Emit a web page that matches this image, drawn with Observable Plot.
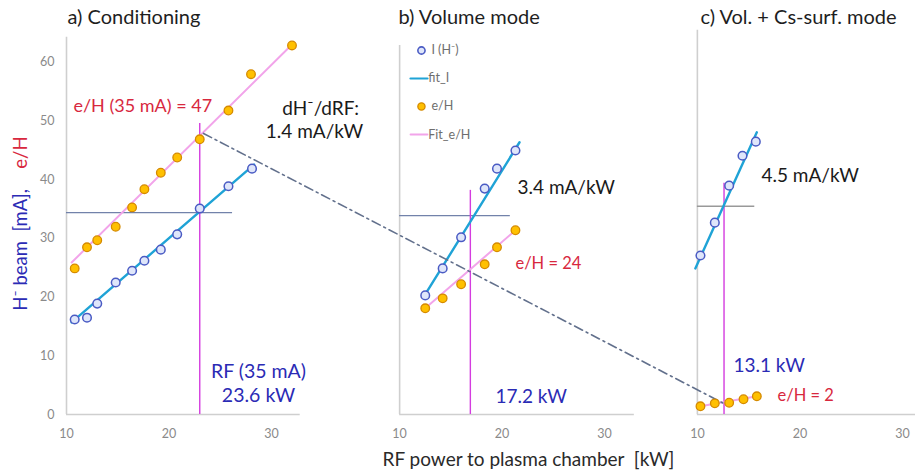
<!DOCTYPE html>
<html>
<head>
<meta charset="utf-8">
<script src="https://cdn.jsdelivr.net/npm/d3@7"></script>
<script src="https://cdn.jsdelivr.net/npm/@observablehq/plot@0.6"></script>
<style>
  html, body { margin: 0; padding: 0; background: #fff; }
  #chart svg { display: block; }
</style>
</head>
<body>
<div id="chart"></div>
<script>
// ---------- data ----------
// Panel a) Conditioning
const rfA_I = [10.8, 12.0, 13.0, 14.8, 16.4, 17.6, 19.2, 20.8, 23.0, 25.8, 28.1];
const iA    = [16.2, 16.5, 18.9, 22.5, 24.5, 26.2, 28.1, 30.7, 35.1, 38.9, 41.9];
const rfA_E = [10.8, 12.0, 13.0, 14.8, 16.4, 17.6, 19.2, 20.8, 23.0, 25.8, 28.0, 32.0];
const eA    = [24.9, 28.5, 29.7, 32.0, 35.3, 38.4, 41.2, 43.8, 46.9, 51.8, 58.0, 62.9];
// Panel b) Volume mode
const rfB   = [12.5, 14.2, 16.0, 18.3, 19.5, 21.3];
const iB    = [20.3, 24.9, 30.2, 38.5, 41.9, 45.0];
const eB    = [18.1, 19.8, 22.2, 25.6, 28.5, 31.4];
// Panel c) Vol. + Cs-surf. mode
const rfC_I = [10.3, 11.7, 13.1, 14.4, 15.7];
const iC    = [27.1, 32.7, 39.0, 44.1, 46.5];
const rfC_E = [10.3, 11.7, 13.1, 14.5, 15.8];
const eC    = [1.4, 1.9, 2.0, 2.6, 3.1];
// Fit line end points (RF kW, value)
const fitA_I_x = [10.5, 28.3], fitA_I_y = [15.7, 42.6];
const fitA_E_x = [10.5, 32.2], fitA_E_y = [25.9, 63.4];
const fitB_I_x = [12.3, 21.7], fitB_I_y = [19.9, 46.4];
const fitB_E_x = [12.5, 21.5], fitB_E_y = [18.1, 31.7];
const fitC_I_x = [9.8, 15.8],  fitC_I_y = [24.9, 48.1];
const fitC_E_x = [10.3, 15.8], fitC_E_y = [1.4, 3.1];
// 35 mA operating point markers: RF at 35 mA, current level
const rf35   = [23.0, 16.9, 12.6];
const i35    = [34.4, 33.9, 35.5];
const vTop   = [49.6, 38.2, 39.4];
const hRight = [26.2, 20.8, 15.6];
// trend of e/H at 35 mA (panel a -> panel c)
const trendRF = [23.37, 12.55];
const trendEH = [47.9, 1.9];
// axes
const panelNames = ["a) Conditioning", "b) Volume mode", "c) Vol. + Cs-surf. mode"];
const xTickValues = [10, 20, 30];
const yTickValues = [0, 10, 20, 30, 40, 50, 60];
const xAxisEnd = [32.8, 32.9, 31.3];
const yAxisTop = [64.3, 62.9, 65.5];

// ---------- layout: the three panels share one x scale, shifted ----------
const offs = [0, 32.5, 61.55];
const gx = (p, v) => v + offs[p];

const pts = (p, xs, ys) => xs.map((x, i) => ({x: gx(p, x), y: ys[i]}));

const I_pts = [...pts(0, rfA_I, iA), ...pts(1, rfB, iB), ...pts(2, rfC_I, iC)];
const E_pts = [...pts(0, rfA_E, eA), ...pts(1, rfB, eB), ...pts(2, rfC_E, eC)];

const tickPos = [], tickLab = new Map();
[0,1,2].forEach(p => xTickValues.forEach(t => { const g = +gx(p, t).toFixed(3); tickPos.push(g); tickLab.set(g, String(t)); }));

const blue = "#2b2bb5", red = "#d8283e";
const tealFit = "#1fa3d6", pinkFit = "#f2a4ea", magenta = "#d43cdf";

const marks = [];
// panel axes lines
[0,1,2].forEach(p => {
  marks.push(Plot.ruleX([gx(p, 10)], {y1: 0, y2: yAxisTop[p], stroke: "#cfcfcf", strokeWidth: 1.6}));
  marks.push(Plot.ruleY([0], {x1: gx(p, 10), x2: gx(p, xAxisEnd[p]), stroke: "#cfcfcf", strokeWidth: 1.6}));
});
marks.push(Plot.axisX({ticks: tickPos, tickFormat: d => tickLab.get(+(+d).toFixed(3)), tickSize: 0, tickPadding: 15, fontSize: 12.5, fill: "#8a8a8a", label: null}));
marks.push(Plot.axisY({ticks: yTickValues, tickSize: 0, tickPadding: 12, fontSize: 12.5, fill: "#8a8a8a", label: null}));

// 35 mA reference lines
[0,1,2].forEach(p => {
  marks.push(Plot.ruleY([i35[p]], {x1: gx(p, 10), x2: gx(p, hRight[p]), stroke: p === 2 ? "#999" : "#7282aa", strokeWidth: 1.4}));
  marks.push(Plot.ruleX([gx(p, rf35[p])], {y1: 0, y2: vTop[p], stroke: magenta, strokeWidth: 1.4}));
});

// fits
const fits = [
  [0, fitA_I_x, fitA_I_y, tealFit, 2.4], [0, fitA_E_x, fitA_E_y, pinkFit, 2],
  [1, fitB_I_x, fitB_I_y, tealFit, 2.4], [1, fitB_E_x, fitB_E_y, pinkFit, 2],
  [2, fitC_I_x, fitC_I_y, tealFit, 2.4], [2, fitC_E_x, fitC_E_y, pinkFit, 2]
];
fits.forEach(([p, xs, ys, c, w]) => marks.push(Plot.line(pts(p, xs, ys), {x: "x", y: "y", stroke: c, strokeWidth: w})));

// trend dash-dot line
marks.push(Plot.line([{x: gx(0, trendRF[0]), y: trendEH[0]}, {x: gx(2, trendRF[1]), y: trendEH[1]}],
  {x: "x", y: "y", stroke: "#62708c", strokeWidth: 1.6, strokeDasharray: "9,4,2,4"}));

// points
marks.push(Plot.dot(E_pts, {x: "x", y: "y", r: 4.3, fill: "#ffc000", stroke: "#d58a00", strokeWidth: 1.3}));
marks.push(Plot.dot(I_pts, {x: "x", y: "y", r: 4.3, fill: "#dfe6fa", stroke: "#4a5bc4", strokeWidth: 1.5}));

// legend (panel b)
const lg = {fontSize: 12.5, fill: "#6e6e6e", textAnchor: "start"};
marks.push(Plot.dot([{x: 44.63, y: 62.04}], {x: "x", y: "y", r: 3.6, fill: "#dfe6fa", stroke: "#4a5bc4", strokeWidth: 1.6}));
marks.push(Plot.dot([{x: 44.63, y: 52.5}], {x: "x", y: "y", r: 3.6, fill: "#ffc000", stroke: "#d58a00", strokeWidth: 1.3}));
marks.push(Plot.line([{x: 43.56, y: 57.27}, {x: 45.22, y: 57.27}], {x: "x", y: "y", stroke: tealFit, strokeWidth: 2.2}));
marks.push(Plot.line([{x: 43.56, y: 47.72}, {x: 45.22, y: 47.72}], {x: "x", y: "y", stroke: pinkFit, strokeWidth: 1.8}));
marks.push(Plot.text(["I (H⁻)"], {x: 45.6, y: 62.04, ...lg}));
marks.push(Plot.text(["fit_I"], {x: 45.3, y: 57.27, ...lg}));
marks.push(Plot.text(["e/H"], {x: 45.6, y: 52.5, ...lg}));
marks.push(Plot.text(["Fit_e/H"], {x: 45.3, y: 47.72, ...lg}));

// titles
const titleX = [10.1, 42.39, 71.85];
panelNames.forEach((t, p) => marks.push(Plot.text([t], {x: titleX[p], y: 67.67, textAnchor: "start", fontSize: 20, fill: "#1e1e1e"})));

// annotations
const ann = (txt, x, y, o) => marks.push(Plot.text([txt], {x, y, ...o}));
ann("e/H (35 mA) = 47", 10.68, 52.5, {textAnchor: "start", fontSize: 18, fill: red});
ann("dH⁻/dRF:", 34.8, 52.0, {fontSize: 19, fill: "#1a1a1a"});
ann("1.4 mA/kW", 34.2, 48.1, {fontSize: 19, fill: "#1a1a1a"});
ann("RF (35 mA)", 28.73, 7.33, {fontSize: 19.5, fill: blue});
ann("23.6 kW", 28.73, 3.24, {fontSize: 19.5, fill: blue});
ann("3.4 mA/kW", 54.0, 38.7, {textAnchor: "start", fontSize: 19, fill: "#1a1a1a"});
ann("e/H = 24", 53.8, 25.7, {textAnchor: "start", fontSize: 16.5, fill: red});
ann("17.2 kW", 51.85, 3.07, {textAnchor: "start", fontSize: 19, fill: blue});
ann("4.5 mA/kW", 77.8, 40.6, {textAnchor: "start", fontSize: 19, fill: "#1a1a1a"});
ann("13.1 kW", 75.07, 8.35, {textAnchor: "start", fontSize: 19, fill: blue});
ann("e/H = 2", 79.37, 3.24, {textAnchor: "start", fontSize: 16.5, fill: red});

// axis labels
ann("RF power to plasma chamber  [kW]", 55.07, -7.7, {fontSize: 19, fill: "#2a2a2a"});
ann("H⁻ beam  [mA],", 5.6, 17.7, {rotate: -90, textAnchor: "start", fontSize: 18.5, fill: blue});
ann("e/H", 5.6, 41.9, {rotate: -90, textAnchor: "start", fontSize: 18.5, fill: red});

const chart = Plot.plot({
  width: 915, height: 474,
  marginLeft: 66, marginRight: 0, marginTop: 0, marginBottom: 60,
  x: {domain: [10, 92.83]},
  y: {domain: [0, 70.56]},
  style: {fontFamily: "Lato, 'Open Sans', sans-serif", background: "#fff", overflow: "visible"},
  marks
});
document.getElementById("chart").append(chart);
</script>
</body>
</html>
